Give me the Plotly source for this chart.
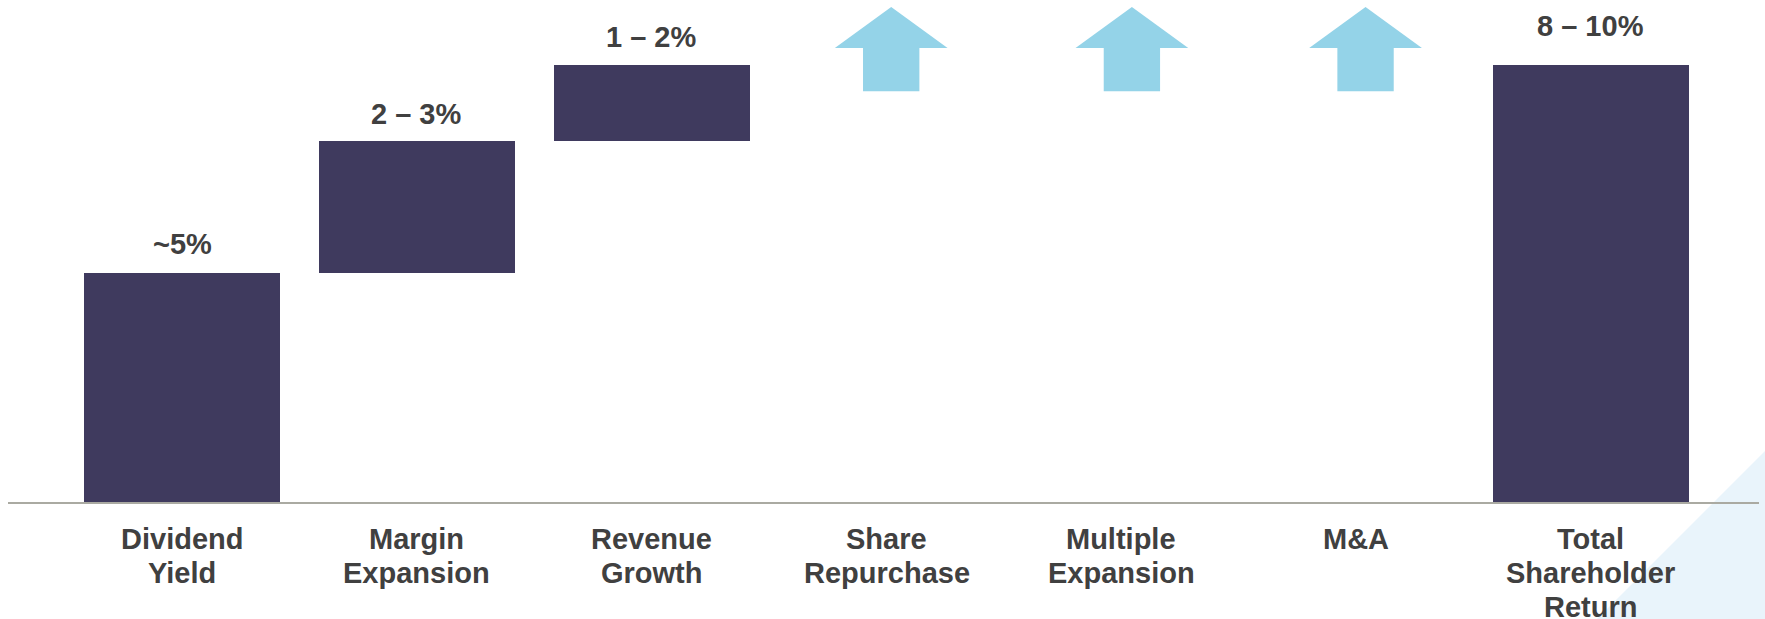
import plotly.graph_objects as go

# ---- data ----
categories = ["Dividend<br>Yield", "Margin<br>Expansion", "Revenue<br>Growth",
              "Share<br>Repurchase", "Multiple<br>Expansion", "M&A",
              "Total<br>Shareholder<br>Return"]
step_values = [5.25, 3.0, 1.75, None, None, None, None]
total_value = 10.0
value_labels = ["~5%", "2 – 3%", "1 – 2%", "", "", "", "8 – 10%"]
upside_flags = [False, False, False, True, True, True, False]

# ---- style ----
BAR_COLOR = "#3f3a5e"
ARROW_COLOR = "#94d3e8"
TEXT_COLOR = "#404040"
BASE_COLOR = "#aaaaa2"
FONT = "Liberation Sans, Arial, sans-serif"
BAR_WIDTH = 0.835
arrow_x_offsets = [0.02, 0.045, 0.04]
ARROW_TIP, ARROW_SHOULDER, ARROW_BOTTOM = 11.33, 10.39, 9.40
ARROW_HEAD_HALF, ARROW_STEM_HALF = 0.24, 0.12
label_shift = [11, 9, 10, 0, 0, 0, 21]
CAT_FIRST_LINE = 37   # px below baseline (line centre)
CAT_LINE_GAP = 34

W, H = 1765, 619
ML, MR, MT, MB = 8, 6, 0, 117

xs = list(range(len(categories)))
bases, heights = [], []
running = 0.0
for i, v in enumerate(step_values):
    if v is not None:
        bases.append(running)
        heights.append(v)
        running += v
    elif i == len(categories) - 1:
        bases.append(0.0)
        heights.append(total_value)
    else:
        bases.append(None)
        heights.append(None)

bar_x = [x for x, h in zip(xs, heights) if h is not None]
bar_base = [b for b, h in zip(bases, heights) if h is not None]
bar_h = [h for h in heights if h is not None]

fig = go.Figure()
fig.add_trace(go.Bar(x=bar_x, y=bar_h, base=bar_base, width=BAR_WIDTH,
                     marker=dict(color=BAR_COLOR, line=dict(width=0)),
                     hoverinfo="skip"))

# value labels
for x, b, h, lab, s in zip(xs, bases, heights, value_labels, label_shift):
    if h is None or not lab:
        continue
    fig.add_annotation(x=x, y=b + h, text=f"<b>{lab}</b>", showarrow=False,
                       yanchor="bottom", yshift=s,
                       font=dict(family=FONT, size=29, color=TEXT_COLOR))

# category labels (one annotation per line for tighter line spacing)
for x, cat in zip(xs, categories):
    for j, line in enumerate(cat.split("<br>")):
        fig.add_annotation(x=x, y=0, xref="x", yref="paper", text=f"<b>{line}</b>",
                           showarrow=False, yanchor="middle",
                           yshift=-(CAT_FIRST_LINE + j * CAT_LINE_GAP),
                           font=dict(family=FONT, size=29, color=TEXT_COLOR))

# upward arrows for qualitative upside drivers
arrow_idx = [i for i, f in enumerate(upside_flags) if f]
for k, i in enumerate(arrow_idx):
    c = xs[i] + arrow_x_offsets[k]
    path = (f"M {c} {ARROW_TIP} L {c + ARROW_HEAD_HALF} {ARROW_SHOULDER} "
            f"L {c + ARROW_STEM_HALF} {ARROW_SHOULDER} L {c + ARROW_STEM_HALF} {ARROW_BOTTOM} "
            f"L {c - ARROW_STEM_HALF} {ARROW_BOTTOM} L {c - ARROW_STEM_HALF} {ARROW_SHOULDER} "
            f"L {c - ARROW_HEAD_HALF} {ARROW_SHOULDER} Z")
    fig.add_shape(type="path", path=path, xref="x", yref="y",
                  fillcolor=ARROW_COLOR, line=dict(width=0))

# decorative corner triangle (pixel -> paper)
pw, ph = W - ML - MR, H - MT - MB
def px(xp): return (xp - ML) / pw
def py(yp): return (H - MB - yp) / ph
tri = f"M {px(1765)} {py(451)} L {px(1765)} {py(619)} L {px(1597)} {py(619)} Z"
fig.add_shape(type="path", path=tri, xref="paper", yref="paper",
              fillcolor="#e9f4fb", line=dict(width=0), layer="below")

unit = 234.8
fig.update_xaxes(range=[-(182 - ML) / unit, 6 + (W - MR - 1591) / unit],
                 tickmode="array", tickvals=xs, showticklabels=False,
                 showline=True, linecolor=BASE_COLOR, linewidth=2, automargin=False,
                 showgrid=False, zeroline=False, ticks="")
fig.update_yaxes(range=[0, ph / 43.7], visible=False, showgrid=False,
                 zeroline=False, automargin=False)

fig.update_layout(width=W, height=H, margin=dict(l=ML, r=MR, t=MT, b=MB),
                  plot_bgcolor="rgba(0,0,0,0)", paper_bgcolor="white",
                  showlegend=False, bargap=0)

fig.write_html("out.html", config={"displayModeBar": False},
               post_script="document.body.style.margin='0';document.body.style.overflow='hidden';")
